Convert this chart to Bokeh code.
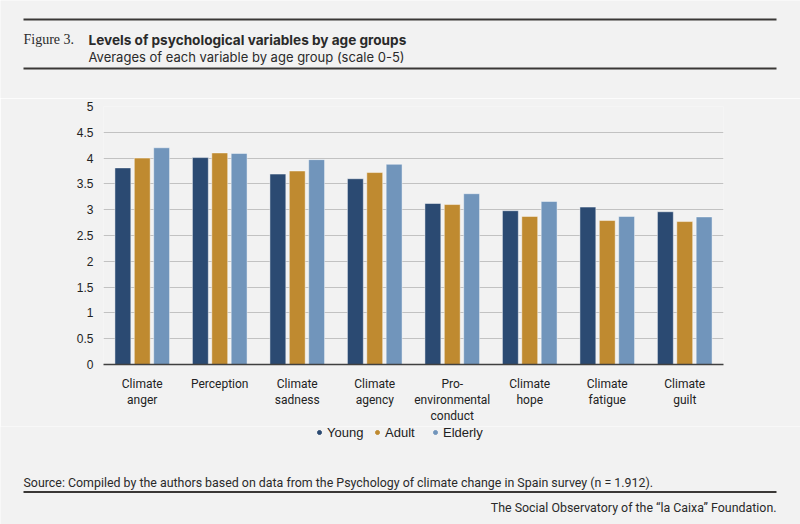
from bokeh.plotting import figure
from bokeh.models import (FactorRange, Range1d, Legend, LegendItem,
                          FixedTicker, NumeralTickFormatter, ColumnDataSource)
from bokeh.layouts import column
from bokeh.transform import dodge
from bokeh.core.properties import value
from bokeh.embed import file_html
from bokeh.resources import INLINE

# ---------------- data ----------------
categories = ["Climate\nanger", "Perception", "Climate\nsadness", "Climate\nagency",
              "Pro-\nenvironmental\nconduct", "Climate\nhope", "Climate\nfatigue", "Climate\nguilt"]
young   = [3.81, 4.01, 3.69, 3.60, 3.12, 2.98, 3.05, 2.96]
adult   = [4.00, 4.10, 3.75, 3.72, 3.10, 2.87, 2.79, 2.77]
elderly = [4.20, 4.09, 3.97, 3.88, 3.31, 3.16, 2.87, 2.86]
series_names = ["Young", "Adult", "Elderly"]
colors = ["#2b4a72", "#bf8a30", "#7195bb"]
y_ticks = [0, 0.5, 1, 1.5, 2, 2.5, 3, 3.5, 4, 4.5, 5]

title_prefix = "Figure 3."
title_text = "Levels of psychological variables by age groups"
subtitle_text = "Averages of each variable by age group (scale 0-5)"
source_text = "Source: Compiled by the authors based on data from the Psychology of climate change in Spain survey (n = 1.912)."
footer_text = "The Social Observatory of the \u201cla Caixa\u201d Foundation."

BG = "#f2f2f2"
INK = "#2a2a2a"
RULE = "#3a3836"
W = 800
H_HEAD, H_CHART, H_FOOT = 98, 328, 98   # page y: 0-98, 98-426, 426-524


def no_align(f):
    try:
        f.frame_align = False
    except Exception:
        pass


def blank(height):
    f = figure(width=W, height=height, x_range=Range1d(0, W), y_range=Range1d(height, 0),
               output_backend="svg", toolbar_location=None,
               x_axis_location=None, y_axis_location=None,
               min_border=0, min_border_left=0, min_border_right=0,
               min_border_top=0, min_border_bottom=0)
    f.background_fill_color = BG
    f.border_fill_color = BG
    f.outline_line_color = None
    f.grid.visible = False
    no_align(f)
    return f


def txt(f, x, y, s, font, size, bold=False, align="left"):
    f.text(x=[x], y=[y], text=[s], text_font=value(font), text_font_size=value(size),
           text_font_style="bold" if bold else "normal", text_align=align,
           text_baseline="alphabetic", text_color=INK)


def rule(f, y):
    f.segment(x0=[23], x1=[776], y0=[y], y1=[y], line_color=RULE, line_width=2.2)


# ---------------- header ----------------
head = blank(H_HEAD)
rule(head, 19)
rule(head, 68)
txt(head, 23, 39, title_prefix, "Liberation Serif", "14px")
txt(head, 88, 39, title_text, "Inter", "13.6px", bold=True)
txt(head, 88, 56.5, subtitle_text, "Inter", "13px")

# ---------------- chart ----------------
src = ColumnDataSource(dict(cat=categories, Young=young, Adult=adult, Elderly=elderly))

p = figure(width=W, height=H_CHART, x_range=FactorRange(*categories, range_padding=0),
           y_range=Range1d(0, 5), output_backend="svg", toolbar_location=None,
           min_border_left=103, min_border_right=77, min_border_top=8, min_border_bottom=62)
p.background_fill_color = BG
p.border_fill_color = BG
p.outline_line_color = None
no_align(p)

offsets = [-0.25, 0.0, 0.25]
for name, col, off in zip(series_names, colors, offsets):
    p.vbar(x=dodge("cat", off, range=p.x_range), top=name, width=0.205, source=src,
           fill_color=col, line_color="white", line_alpha=0.45, line_width=1)

p.xgrid.grid_line_color = None
p.ygrid.grid_line_color = "#c2c2c2"
p.ygrid.grid_line_width = 1
p.yaxis.ticker = FixedTicker(ticks=y_ticks)
p.yaxis.formatter = NumeralTickFormatter(format="0.[0]")
p.yaxis.axis_line_color = None
p.yaxis.major_tick_line_color = None
p.yaxis.minor_tick_line_color = None
p.yaxis.major_tick_out = 0
p.yaxis.major_tick_in = 0
p.yaxis.major_label_standoff = 10
p.yaxis.major_label_text_font = "Liberation Sans"
p.yaxis.major_label_text_font_size = "12px"
p.yaxis.major_label_text_color = "#222222"

p.xaxis.axis_line_color = "#404040"
p.xaxis.axis_line_width = 1.5
p.xaxis.major_tick_line_color = None
p.xaxis.minor_tick_line_color = None
p.xaxis.major_tick_out = 0
p.xaxis.major_tick_in = 0
p.xaxis.major_label_standoff = 12
p.xaxis.major_label_text_font = "Roboto"
p.xaxis.major_label_text_font_size = "12px"
p.xaxis.major_label_text_color = "#222222"
p.xaxis.major_label_text_line_height = 1.17

# ---------------- footer (legend + source) ----------------
foot = blank(H_FOOT)
items = []
for name, col in zip(series_names, colors):
    r = foot.scatter(x=[-100], y=[-100], marker="circle", size=8, fill_color=col, line_color=col)
    items.append(LegendItem(label=name, renderers=[r]))
leg = Legend(items=items, orientation="horizontal", location=(314, 84),
             background_fill_alpha=0, border_line_alpha=0, padding=0, margin=0,
             glyph_width=10, glyph_height=16, label_standoff=3, spacing=0, label_width=45,
             label_text_font="Liberation Sans", label_text_font_size="13px",
             label_text_color="#222222")
foot.add_layout(leg, "center")

txt(foot, 23, 56, source_text, "Roboto", "12.4px")
rule(foot, 65.5)
txt(foot, 776, 81, footer_text, "Roboto", "12.4px", align="right")

layout = column(head, p, foot, spacing=0)

html = file_html(layout, INLINE)
html = html.replace("<body>", '<body style="background-color:#f2f2f2;">', 1)
open("out.html", "w").write(html)
